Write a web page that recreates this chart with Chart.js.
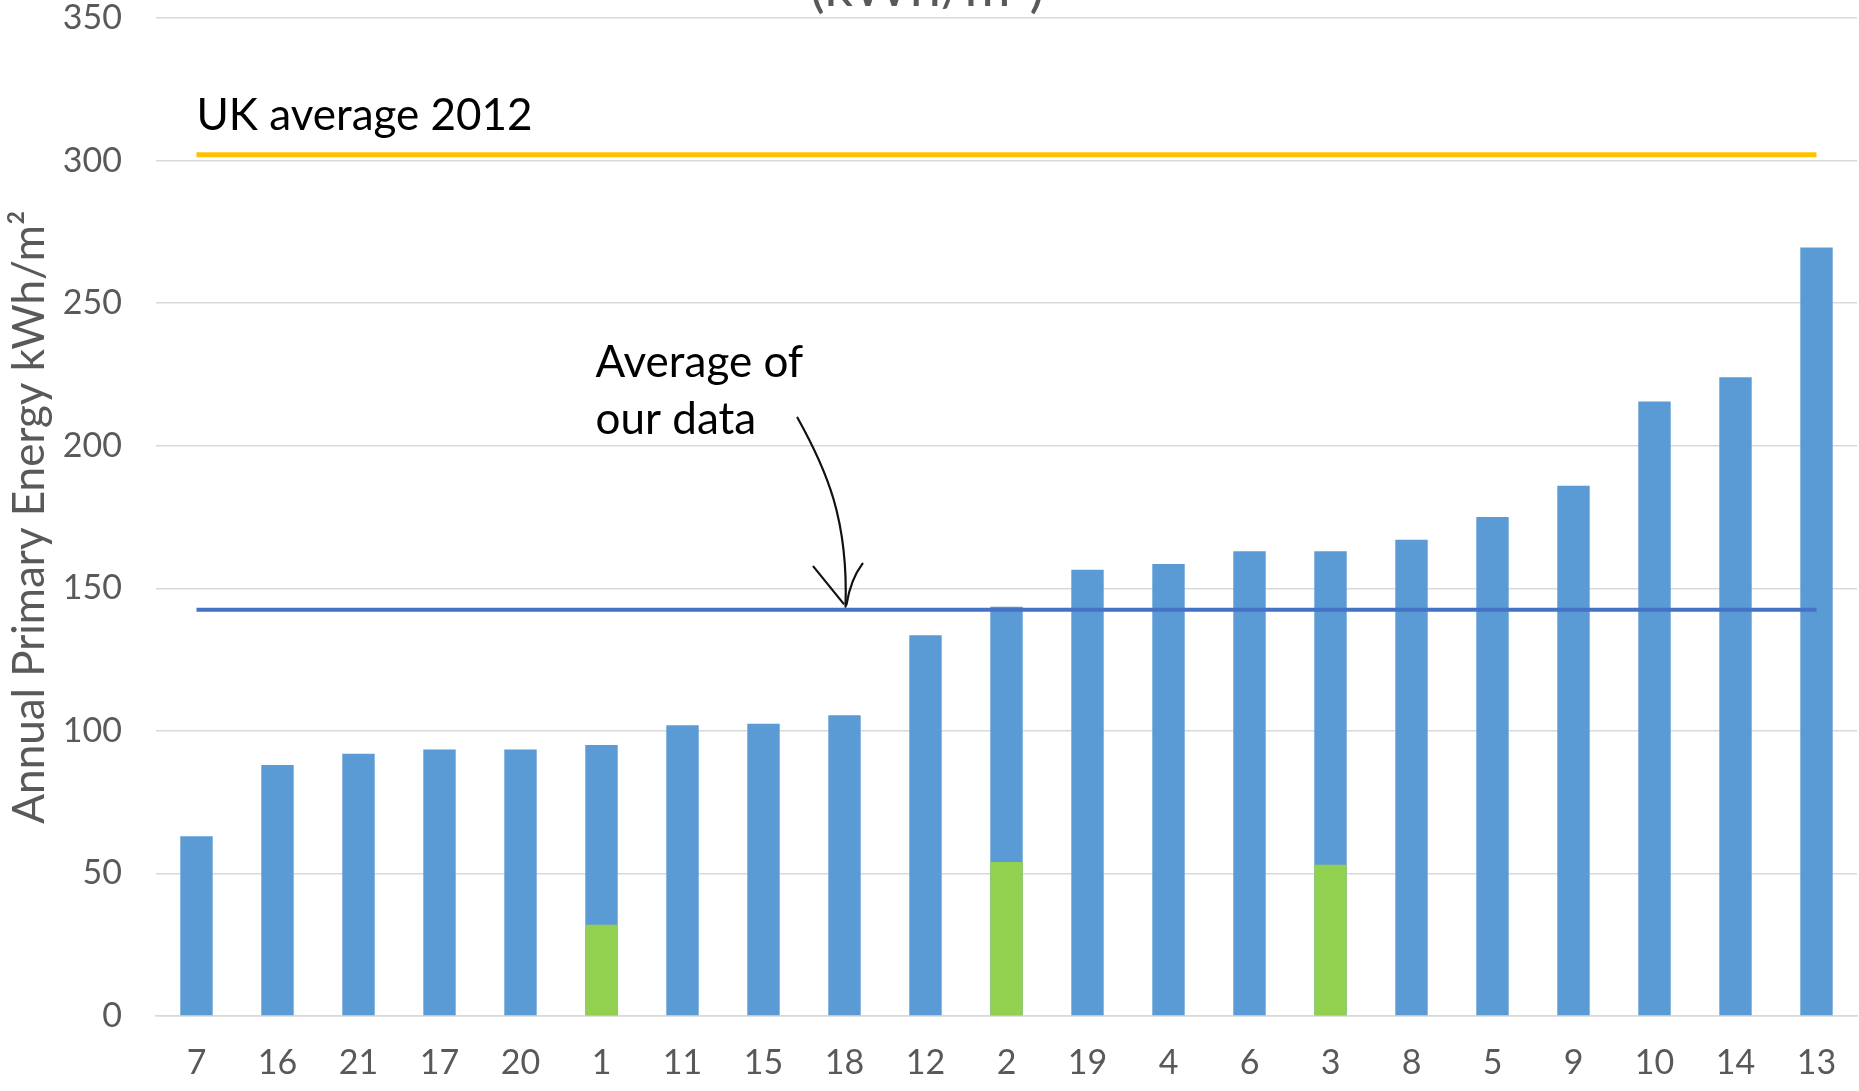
<!DOCTYPE html>
<html>
<head>
<meta charset="utf-8">
<script src="https://cdn.jsdelivr.net/npm/chart.js@4.4.1/dist/chart.umd.min.js"></script>
<style>
  html, body { margin: 0; padding: 0; background: #ffffff; }
  #wrap { width: 1859px; height: 1091px; }
</style>
</head>
<body>
<div id="wrap"><canvas id="c" width="1859" height="1091"></canvas></div>
<script>
// Buildings, sorted by annual primary energy use
const buildings = ['7','16','21','17','20','1','11','15','18','12','2','19','4','6','3','8','5','9','10','14','13'];
// Total annual primary energy per building (kWh/m²)
const totalEnergy = [63, 88, 92, 93.5, 93.5, 95, 102, 102.5, 105.5, 133.5, 143.5, 156.5, 158.5, 163, 163, 167, 175, 186, 215.5, 224, 269.5];
// Share of the total shown in green (three buildings only)
const greenPortion = [null, null, null, null, null, 32, null, null, null, null, 54, null, null, null, 53, null, null, null, null, null, null];
// Reference levels
const ukAverage2012 = 302;
const ourDataAverage = 142.5;
// Value axis
const yMin = 0, yMax = 350, yStep = 50;

const ukLine = buildings.map(() => ukAverage2012);
const avgLine = buildings.map(() => ourDataAverage);

const FONT = 'Lato';
const GREY = '#595959';

// Text notes, the hand-drawn arrow and the clipped title line
const notes = {
  id: 'notes',
  afterDatasetsDraw(chart) {
    const ctx = chart.ctx;
    const x = chart.scales.x, y = chart.scales.y;
    ctx.save();

    // title remnant at the top edge
    ctx.fillStyle = GREY;
    ctx.font = `56px ${FONT}`;
    ctx.textAlign = 'center';
    ctx.textBaseline = 'alphabetic';
    ctx.fillText('(kWh/m²)', 927, 6);

    // UK average label
    ctx.fillStyle = '#000000';
    ctx.font = `44px ${FONT}`;
    ctx.textAlign = 'left';
    ctx.fillText('UK average 2012', x.getPixelForValue(0), y.getPixelForValue(ukAverage2012) - 25);

    // arrow pointing at the average line
    const tx = x.getPixelForValue(8);
    const ty = y.getPixelForValue(ourDataAverage);
    ctx.fillText('Average of', tx - 249, ty - 233);
    ctx.fillText('our data', tx - 249, ty - 176);

    ctx.strokeStyle = '#111111';
    ctx.lineWidth = 2.2;
    ctx.lineCap = 'round';
    ctx.lineJoin = 'round';
    ctx.beginPath();
    ctx.moveTo(tx - 47, ty - 192);
    ctx.bezierCurveTo(tx - 18, ty - 140, tx + 4, ty - 90, tx + 1, ty - 3);
    ctx.stroke();
    ctx.beginPath();
    ctx.moveTo(tx - 31, ty - 43);
    ctx.lineTo(tx - 1, ty - 6);
    ctx.moveTo(tx + 18, ty - 46);
    ctx.quadraticCurveTo(tx + 6, ty - 30, tx + 2, ty - 5);
    ctx.stroke();

    ctx.restore();
  }
};

new Chart(document.getElementById('c'), {
  type: 'bar',
  data: {
    labels: buildings,
    datasets: [
      {
        type: 'line', label: 'UK average 2012', data: ukLine,
        borderColor: '#FFC000', borderWidth: 5, pointRadius: 0, fill: false, order: 0
      },
      {
        type: 'line', label: 'Average of our data', data: avgLine,
        borderColor: '#4472C4', borderWidth: 4, pointRadius: 0, fill: false, order: 1
      },
      {
        label: 'Green share', data: greenPortion,
        backgroundColor: '#92D050', barPercentage: 0.4, categoryPercentage: 1, order: 2
      },
      {
        label: 'Annual primary energy', data: totalEnergy,
        backgroundColor: '#5B9BD5', barPercentage: 0.4, categoryPercentage: 1, order: 3
      }
    ]
  },
  options: {
    responsive: false,
    animation: false,
    devicePixelRatio: 1,
    layout: { padding: { top: 18, right: 2, left: 0, bottom: 0 } },
    plugins: {
      legend: { display: false },
      tooltip: { enabled: false },
      title: { display: false }
    },
    scales: {
      x: {
        stacked: true,
        offset: true,
        grid: { display: false, drawTicks: false },
        border: { display: true, color: '#D9D9D9', width: 1.5 },
        ticks: {
          color: GREY, padding: 27, maxRotation: 0, autoSkip: false,
          font: { family: FONT, size: 34, lineHeight: 1.2 }
        },
        afterFit(scale) { scale.height = 75; scale.paddingLeft = 0; scale.paddingRight = 0; }
      },
      y: {
        stacked: false,
        min: yMin, max: yMax,
        grid: { color: '#D9D9D9', lineWidth: 1.5, drawTicks: false },
        border: { display: false },
        ticks: {
          stepSize: yStep, color: GREY, padding: 34,
          font: { family: FONT, size: 34, lineHeight: 1.0 }
        },
        title: {
          display: true,
          text: 'Annual Primary Energy kWh/m²',
          color: GREY,
          font: { family: FONT, size: 44, lineHeight: 1.2 },
          padding: { top: 3, bottom: 0 }
        },
        afterFit(scale) { scale.width = 156; scale.paddingTop = 0; scale.paddingBottom = 0; }
      }
    }
  },
  plugins: [notes]
});
</script>
</body>
</html>
